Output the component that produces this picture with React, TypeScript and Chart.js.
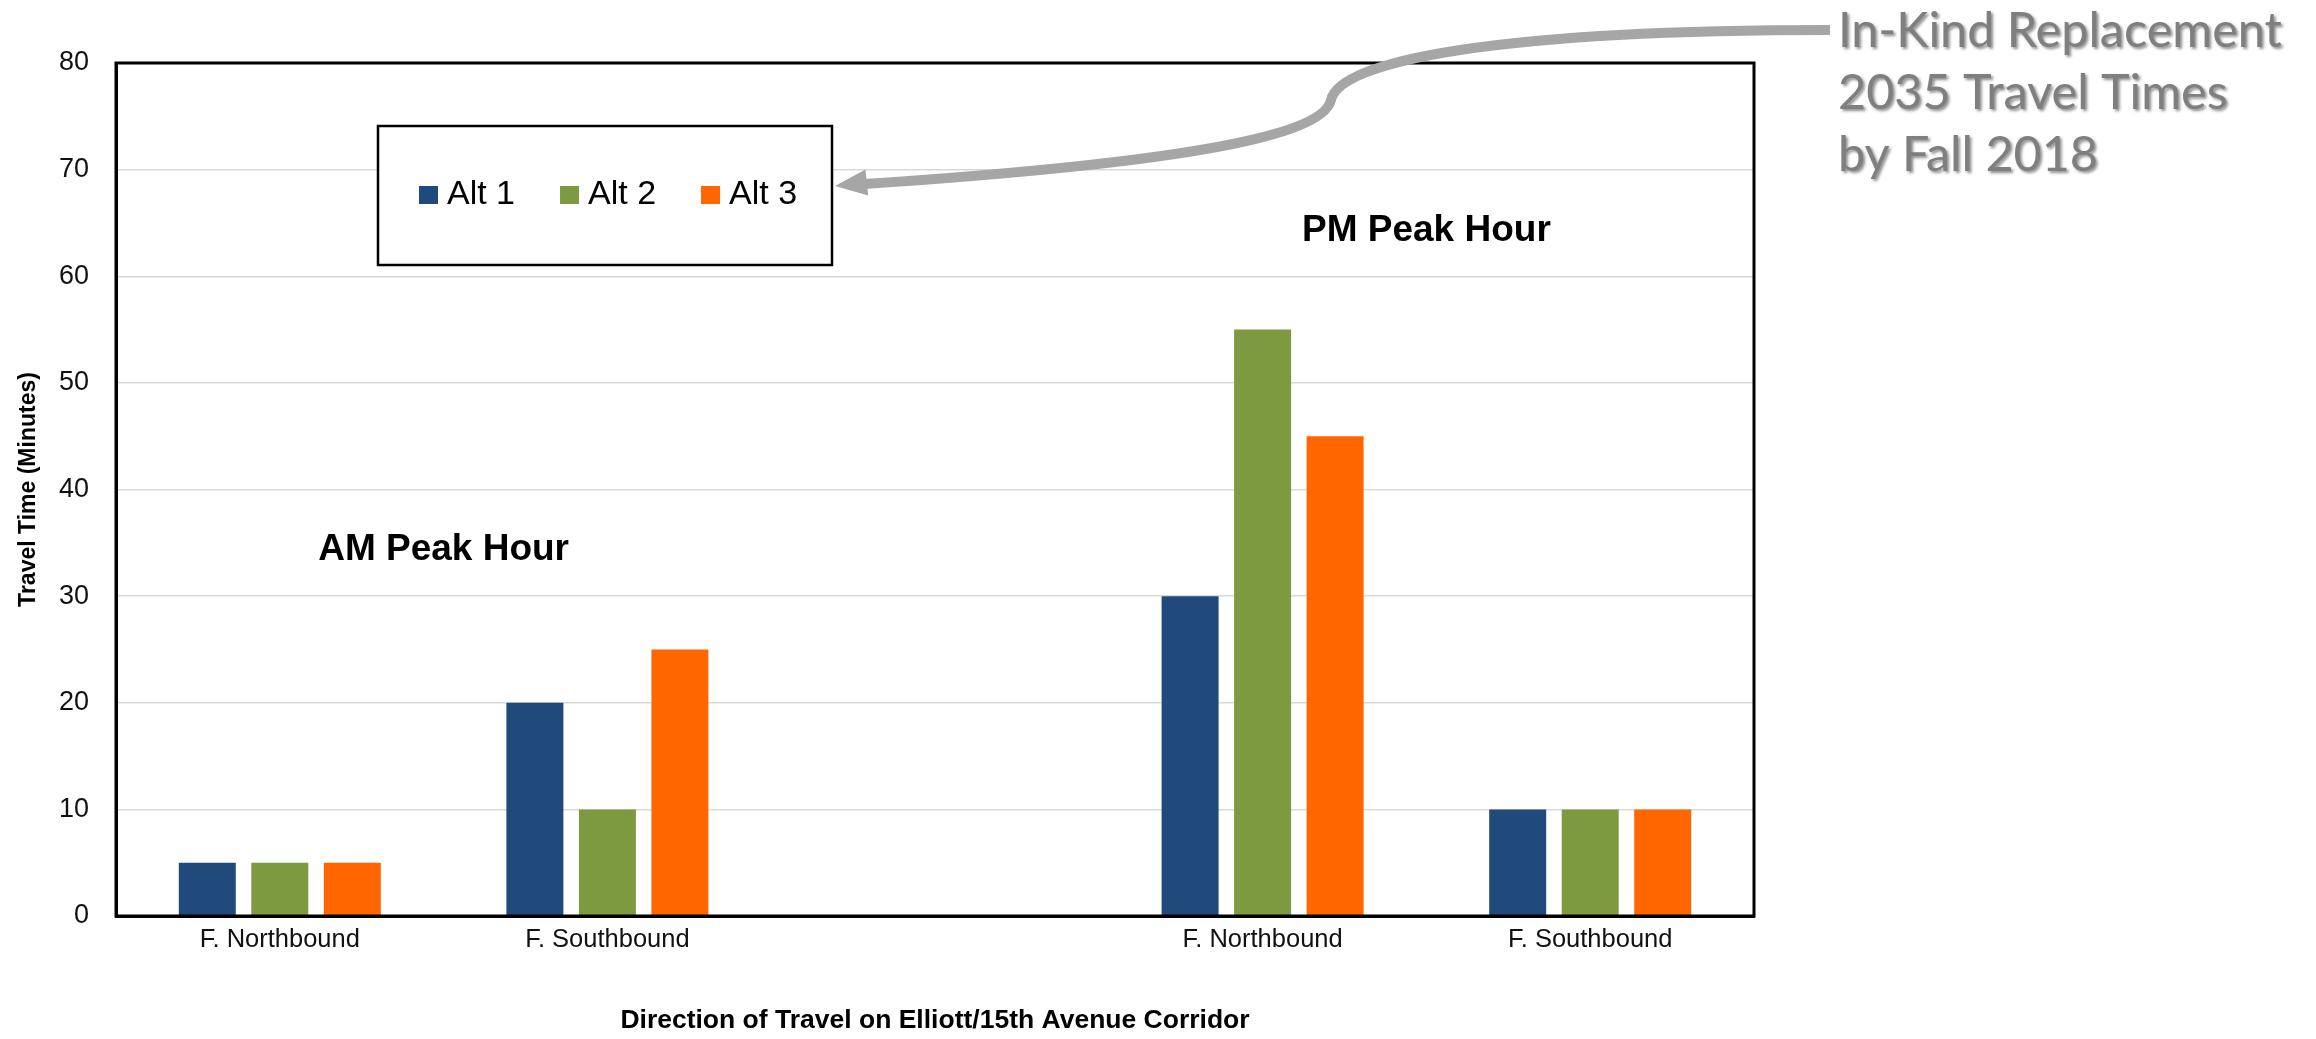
import { useEffect, useRef } from 'react';
import { Chart, registerables } from 'chart.js';

Chart.register(...registerables);

// ---- data ----
const categories = ['F. Northbound', 'F. Southbound', '', 'F. Northbound', 'F. Southbound'];
const seriesNames = ['Alt 1', 'Alt 2', 'Alt 3'];
const alt1Values = [5, 20, null, 30, 10];
const alt2Values = [5, 10, null, 55, 10];
const alt3Values = [5, 25, null, 45, 10];
const seriesColors = ['#214A7C', '#7E9A40', '#FF6600'];
const yMin = 0;
const yMax = 80;
const yStep = 10;
const periodLabels = ['AM Peak Hour', 'PM Peak Hour'];
const yAxisTitle = 'Travel Time (Minutes)';
const xAxisTitle = 'Direction of Travel on Elliott/15th Avenue Corridor';
const calloutLines = ['In-Kind Replacement', '2035 Travel Times', 'by Fall 2018'];

// ---- layout / style constants ----
const W = 2316;
const H = 1039;
const FONT = '"Liberation Sans", Arial, Helvetica, sans-serif';
const PLOT = { left: 116, top: 63, right: 1754, bottom: 916 };
// annotation anchors in data units (category index, minutes)
const periodAnchorX = [0.5, 3.5];
const periodAnchorY = [34.3, 64.3];

const overlayPlugin = {
  id: 'overlay',
  afterDraw(chart: any) {
    const { ctx, chartArea: a, scales } = chart;
    ctx.save();

    // plot frame
    ctx.strokeStyle = '#000';
    ctx.lineWidth = 3;
    ctx.strokeRect(a.left, a.top, a.right - a.left, a.bottom - a.top);

    // period annotations
    ctx.fillStyle = '#000';
    ctx.font = `bold 37px ${FONT}`;
    ctx.textAlign = 'center';
    ctx.textBaseline = 'middle';
    periodLabels.forEach((t, i) => {
      ctx.fillText(t, scales.x.getPixelForValue(periodAnchorX[i]), scales.y.getPixelForValue(periodAnchorY[i]));
    });

    // legend box
    const lb = { x: 378, y: 126, w: 454, h: 139 };
    ctx.fillStyle = '#fff';
    ctx.fillRect(lb.x, lb.y, lb.w, lb.h);
    ctx.strokeStyle = '#000';
    ctx.lineWidth = 2.5;
    ctx.strokeRect(lb.x, lb.y, lb.w, lb.h);
    ctx.font = `34px ${FONT}`;
    ctx.textAlign = 'left';
    ctx.textBaseline = 'middle';
    let lx = 419;
    const ly = 195;
    chart.data.datasets.forEach((ds: any) => {
      ctx.fillStyle = ds.backgroundColor;
      ctx.fillRect(lx, ly - 9, 19, 18);
      ctx.fillStyle = '#000';
      ctx.fillText(ds.label, lx + 28, ly);
      lx += 28 + ctx.measureText(ds.label).width + 45;
    });

    // callout arrow
    ctx.strokeStyle = '#A6A6A6';
    ctx.fillStyle = '#A6A6A6';
    ctx.lineWidth = 10;
    ctx.lineCap = 'butt';
    ctx.beginPath();
    ctx.moveTo(1830, 30);
    ctx.bezierCurveTo(1500, 30, 1340, 60, 1331, 100);
    ctx.bezierCurveTo(1322, 140, 1150, 165, 864, 184);
    ctx.stroke();
    const tip = { x: 835, y: 186 };
    const ang = Math.atan2(184 - 180, 864 - 900);
    const len = 32, half = 13;
    const bx = tip.x - Math.cos(ang) * len;
    const by = tip.y - Math.sin(ang) * len;
    ctx.beginPath();
    ctx.moveTo(tip.x, tip.y);
    ctx.lineTo(bx - Math.sin(ang) * half, by + Math.cos(ang) * half);
    ctx.lineTo(bx + Math.sin(ang) * half, by - Math.cos(ang) * half);
    ctx.closePath();
    ctx.fill();

    // callout text
    let size = 50;
    const cfont = (s: number) => `${s}px Lato, "Open Sans", "Noto Sans", sans-serif`;
    ctx.font = cfont(size);
    size = size * 444 / ctx.measureText(calloutLines[0]).width;
    ctx.font = cfont(size);
    ctx.textAlign = 'left';
    ctx.textBaseline = 'middle';
    ctx.shadowColor = 'rgba(0,0,0,0.45)';
    ctx.shadowOffsetX = 2;
    ctx.shadowOffsetY = 2;
    ctx.shadowBlur = 3;
    ctx.fillStyle = '#7F7F7F';
    calloutLines.forEach((t, i) => ctx.fillText(t, 1838, 31 + i * 62));

    ctx.restore();
  },
};

export default function App() {
  const ref = useRef<HTMLCanvasElement>(null);

  useEffect(() => {
    const seriesValues = [alt1Values, alt2Values, alt3Values];
    const chart = new Chart(ref.current as HTMLCanvasElement, {
      type: 'bar',
      data: {
        labels: categories,
        datasets: seriesNames.map((name, i) => ({
          label: name,
          data: seriesValues[i] as any,
          backgroundColor: seriesColors[i],
          borderWidth: 0,
          categoryPercentage: 0.664,
          barPercentage: 0.786,
        })),
      },
      options: {
        responsive: false,
        animation: false,
        events: [],
        layout: { padding: { left: 0, top: PLOT.top, right: W - PLOT.right, bottom: 0 } },
        plugins: {
          legend: { display: false },
          tooltip: { enabled: false },
        },
        scales: {
          x: {
            type: 'category',
            grid: { display: false, drawTicks: false },
            border: { display: true, color: '#000', width: 3 },
            ticks: { font: { family: FONT, size: 25.5 }, color: '#111', padding: 9, maxRotation: 0, autoSkip: false },
            title: {
              display: true,
              text: xAxisTitle,
              color: '#000',
              font: { family: FONT, size: 26.5, weight: 'bold' },
              padding: { top: 0, bottom: 2 },
            },
            afterFit: (s: any) => { s.height = H - PLOT.bottom; },
          },
          y: {
            min: yMin,
            max: yMax,
            ticks: { stepSize: yStep, font: { family: FONT, size: 27 }, color: '#111', padding: 27 },
            grid: { color: '#D9D9D9', lineWidth: 1.5, drawTicks: false },
            border: { display: true, color: '#000', width: 3 },
            title: {
              display: true,
              text: yAxisTitle,
              color: '#000',
              font: { family: FONT, size: 23, weight: 'bold' },
              padding: { top: 15, bottom: 0 },
            },
            afterFit: (s: any) => { s.width = PLOT.left; },
          },
        },
      } as any,
      plugins: [overlayPlugin],
    });
    return () => chart.destroy();
  }, []);

  return (
    <div style={{ position: 'absolute', left: 0, top: 0, width: W, height: H, background: '#fff' }}>
      <canvas ref={ref} width={W} height={H} style={{ display: 'block' }} />
    </div>
  );
}
